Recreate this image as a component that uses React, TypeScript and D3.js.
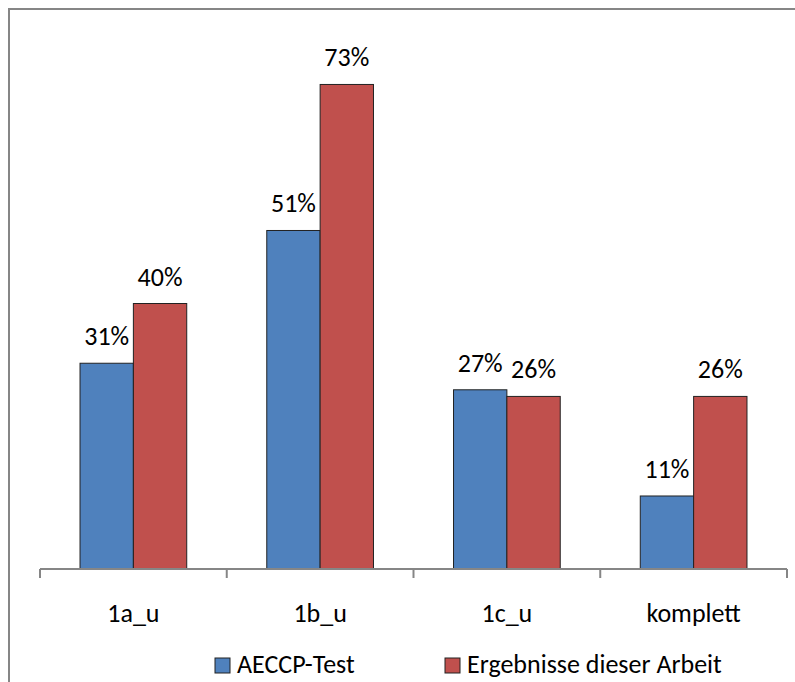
import React from "react";
import * as d3 from "d3";

const categories = ["1a_u", "1b_u", "1c_u", "komplett"];
const seriesNames = ["AECCP-Test", "Ergebnisse dieser Arbeit"];
const aeccpValues = [0.31, 0.51, 0.27, 0.11];
const arbeitValues = [0.40, 0.73, 0.26, 0.26];
const colors = ["#4F81BD", "#C0504D"];

const W = 795;
const H = 682;
const FONT = "Calibri, Carlito, Lato, sans-serif";
const FS = 26;

export default function App() {
  const x = d3.scaleBand<string>().domain(categories).range([40, 787]).padding(0);
  const y = d3.scaleLinear().domain([0, 0.8]).range([569, 38]);
  const step = x.bandwidth();
  const barW = step / 3.5;
  const groupOffset = (step - 2 * barW) / 2;
  const series = [aeccpValues, arbeitValues];
  const fmt = d3.format(".0%");
  const baseY = y(0);

  const ticks = categories.map((c) => x(c)!).concat([x(categories[categories.length - 1])! + step]);

  return (
    <svg
      width={W}
      height={H}
      style={{ position: "absolute", left: 0, top: 0, background: "#fff" }}
      fontFamily={FONT}
    >
      <rect x={0} y={0} width={W} height={H} fill="#fff" />
      <rect x={9} y={9} width={900} height={900} fill="none" stroke="#868686" strokeWidth={2} />

      {series.map((vals, si) =>
        vals.map((v, ci) => {
          const bx = x(categories[ci])! + groupOffset + si * barW;
          const by = y(v);
          return (
            <g key={`${si}-${ci}`}>
              <rect
                x={bx}
                y={by}
                width={barW}
                height={baseY - by}
                fill={colors[si]}
                stroke="#222"
                strokeWidth={1}
              />
              <text
                x={bx + barW / 2}
                y={by - 18}
                textAnchor="middle"
                fontSize={FS}
                fill="#000"
              >
                {fmt(v)}
              </text>
            </g>
          );
        })
      )}

      <line x1={40} x2={787} y1={baseY} y2={baseY} stroke="#868686" strokeWidth={2} />
      {ticks.map((t, i) => (
        <line key={i} x1={t} x2={t} y1={baseY} y2={baseY + 9} stroke="#868686" strokeWidth={2} />
      ))}
      {categories.map((c) => (
        <text key={c} x={x(c)! + step / 2} y={622} textAnchor="middle" fontSize={FS} fill="#000">
          {c}
        </text>
      ))}

      {/* legend */}
      {seriesNames.map((name, i) => {
        const lx = i === 0 ? 215 : 445;
        return (
          <g key={name}>
            <rect x={lx} y={658} width={15} height={15} fill={colors[i]} stroke="#222" strokeWidth={1} />
            <text x={lx + 22} y={673} fontSize={FS} fill="#000">
              {name}
            </text>
          </g>
        );
      })}
    </svg>
  );
}
